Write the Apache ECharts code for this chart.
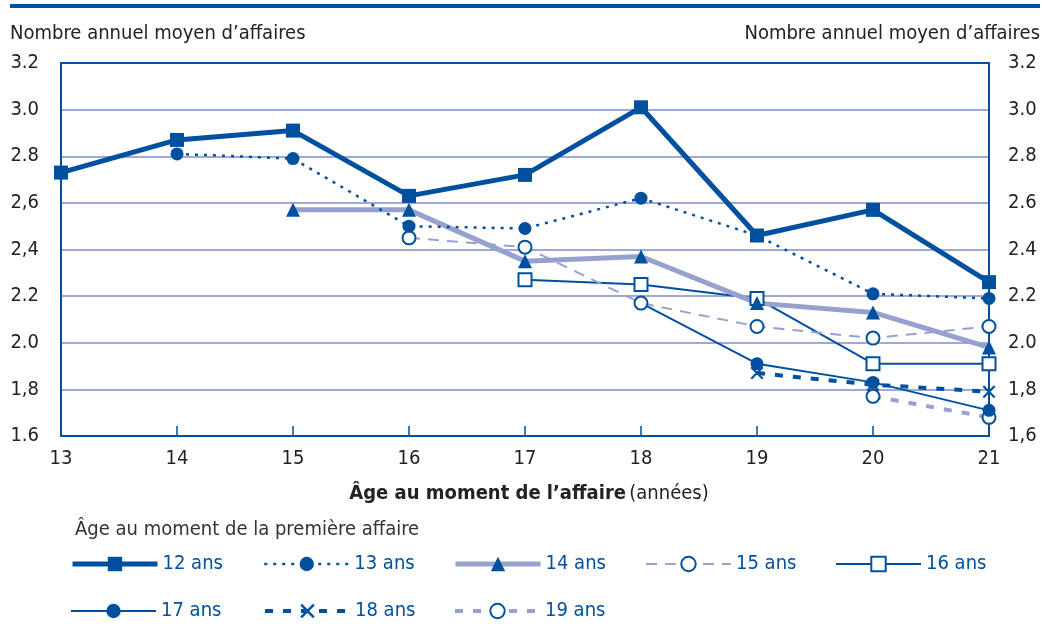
<!DOCTYPE html>
<html>
<head>
<meta charset="utf-8">
<script src="https://cdn.jsdelivr.net/npm/echarts@6/dist/echarts.min.js"></script>
<style>
  html, body { margin: 0; padding: 0; background: #fff; }
  #chart { width: 1042px; height: 627px; }
</style>
</head>
<body>
<div id="chart"></div>
<script>
const FONT = "'Liberation Sans Narrow', 'DejaVu Sans Condensed', sans-serif";
const DARK = "#0050a0";
const LIGHT = "#97a1d0";
const GRID = "#a0a9d6";
const TEXT = "#222";

const ages = ["13", "14", "15", "16", "17", "18", "19", "20", "21"];
const leftTickLabels = ["1.6", "1,8", "2.0", "2.2", "2,4", "2,6", "2.8", "3.0", "3.2"];
const rightTickLabels = ["1,6", "1,8", "2.0", "2.2", "2.4", "2.6", "2.8", "3.0", "3.2"];

const ans12 = [2.73, 2.87, 2.91, 2.63, 2.72, 3.01, 2.46, 2.57, 2.26];
const ans13 = [null, 2.81, 2.79, 2.50, 2.49, 2.62, 2.46, 2.21, 2.19];
const ans14 = [null, null, 2.57, 2.57, 2.35, 2.37, 2.17, 2.13, 1.98];
const ans15 = [null, null, null, 2.45, 2.41, 2.17, 2.07, 2.02, 2.07];
const ans16 = [null, null, null, null, 2.27, 2.25, 2.19, 1.91, 1.91];
const ans17 = [null, null, null, null, null, 2.17, 1.91, 1.83, 1.71];
const ans18 = [null, null, null, null, null, null, 1.87, 1.82, 1.79];
const ans19 = [null, null, null, null, null, null, null, 1.77, 1.68];

const crossPath = "path://M0,1.2 L1.2,0 L5,3.8 L8.8,0 L10,1.2 L6.2,5 L10,8.8 L8.8,10 L5,6.2 L1.2,10 L0,8.8 L3.8,5 Z";

function tickIndex(v) { return Math.round((v - 1.6) / 0.2); }

// drawn bottom to top: 12 ans last so it sits on top
const seriesDefs = [
  { name: "19 ans", data: ans19, color: LIGHT, width: 4, type: [8, 10], symbol: "emptyCircle", size: 13 },
  { name: "18 ans", data: ans18, color: DARK, width: 4, type: [8, 10], symbol: crossPath, size: 13 },
  { name: "17 ans", data: ans17, color: DARK, width: 2, type: "solid", symbol: "circle", size: 13 },
  { name: "16 ans", data: ans16, color: DARK, width: 2, type: "solid", symbol: "emptyRect", size: 13 },
  { name: "15 ans", data: ans15, color: LIGHT, width: 2, type: [11, 8], symbol: "emptyCircle", size: 13 },
  { name: "14 ans", data: ans14, color: LIGHT, width: 5, type: "solid", symbol: "triangle", size: 14 },
  { name: "13 ans", data: ans13, color: DARK, width: 2.5, type: [3, 6], symbol: "circle", size: 13 },
  { name: "12 ans", data: ans12, color: DARK, width: 5, type: "solid", symbol: "rect", size: 14 }
];

const series = seriesDefs.map(d => ({
  name: d.name,
  type: "line",
  data: d.data,
  clip: false,
  symbol: d.symbol,
  symbolSize: d.size,
  showAllSymbol: true,
  lineStyle: { color: d.color, width: d.width, type: d.type },
  itemStyle: { color: DARK, borderWidth: String(d.symbol).startsWith("empty") ? 2 : 0 },
  emphasis: { disabled: true }
}));

const legendSpots = [
  ["12 ans", 65, 549], ["13 ans", 258, 549], ["14 ans", 448, 549], ["15 ans", 640, 549], ["16 ans", 830, 549],
  ["17 ans", 65, 596], ["18 ans", 258, 596], ["19 ans", 448, 596]
];

const legends = legendSpots.map(([name, left, top]) => ({
  data: [name],
  left: left,
  top: top,
  itemWidth: 85,
  itemHeight: 18,
  itemGap: 0,
  selectedMode: false,
  lineStyle: { width: "inherit", type: "inherit" },
  textStyle: { color: DARK, fontFamily: FONT, fontSize: 20 }
}));

const chart = echarts.init(document.getElementById("chart"));
chart.setOption({
  animation: false,
  backgroundColor: "#fff",
  grid: { left: 61, right: 53, top: 63, bottom: 191 },
  legend: legends,
  xAxis: [
    {
      type: "category",
      data: ages,
      boundaryGap: false,
      axisLine: { lineStyle: { color: DARK, width: 2 } },
      axisTick: { inside: true, length: 10, lineStyle: { color: DARK, width: 1.5 } },
      axisLabel: { color: TEXT, fontFamily: FONT, fontSize: 20, margin: 13 },
      splitLine: { show: false }
    },
    {
      type: "category",
      data: ages,
      boundaryGap: false,
      position: "top",
      axisLine: { lineStyle: { color: DARK, width: 2 } },
      axisTick: { show: false },
      axisLabel: { show: false },
      splitLine: { show: false }
    }
  ],
  yAxis: [
    {
      type: "value",
      min: 1.6, max: 3.2, interval: 0.2,
      axisLine: { show: true, lineStyle: { color: DARK, width: 2 } },
      axisTick: { show: false },
      axisLabel: { color: TEXT, fontFamily: FONT, fontSize: 20, margin: 22,
        formatter: v => leftTickLabels[tickIndex(v)] },
      splitLine: { lineStyle: { color: GRID, width: 2 } }
    },
    {
      type: "value",
      min: 1.6, max: 3.2, interval: 0.2,
      position: "right",
      axisLine: { show: true, lineStyle: { color: DARK, width: 2 } },
      axisTick: { show: false },
      axisLabel: { color: TEXT, fontFamily: FONT, fontSize: 20, margin: 19,
        formatter: v => rightTickLabels[tickIndex(v)] },
      splitLine: { show: false }
    }
  ],
  graphic: [
    { type: "rect", left: 10, top: 4, shape: { width: 1030, height: 4 }, style: { fill: DARK } },
    { type: "text", left: 10, top: 24, style: { text: "Nombre annuel moyen d’affaires", fill: TEXT, font: "20px " + FONT } },
    { type: "text", right: 2, top: 24, style: { text: "Nombre annuel moyen d’affaires", fill: TEXT, font: "20px " + FONT } },
    { type: "text", x: 529, y: 494, style: {
        text: "{b|Âge au moment de l’affaire} {n|(années)}",
        align: "center", verticalAlign: "middle",
        rich: {
          b: { fill: TEXT, font: "bold 20px " + FONT },
          n: { fill: TEXT, font: "20px " + FONT }
        }
      } },
    { type: "text", left: 75, top: 520, style: { text: "Âge au moment de la première affaire", fill: "#333", font: "20px " + FONT } }
  ],
  series: series
});
</script>
</body>
</html>
